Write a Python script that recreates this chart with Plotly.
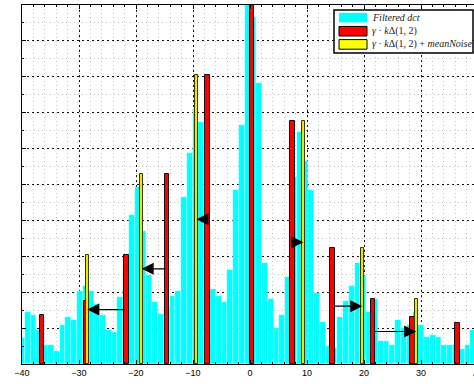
import numpy as np
import plotly.graph_objects as go

# ---------------- data ----------------
# filtered DCT histogram: bin heights, left to right (first bin centred at -40)
BIN_START = -40.0
BIN_WIDTH = 1.015
dct_counts = [
    0.73, 1.45, 1.37, 0.95, 0.52, 0.52, 0.37, 1.09, 1.32, 1.23,
    2.04, 2.18, 2.04, 1.68, 1.37, 0.95, 0.88, 1.88, 2.76, 4.15,
    4.93, 3.70, 2.48, 1.74, 1.39, 1.60, 1.90, 2.04, 4.64, 5.88,
    7.11, 6.74, 3.64, 2.10, 1.90, 1.74, 2.62, 4.86, 6.67, 10.4,
    9.66, 7.82, 2.82, 1.81, 1.00, 1.37, 2.41, 5.21, 6.46, 5.65,
    4.86, 1.97, 1.16, 0.51, 0.45, 1.32, 1.75, 2.16, 2.82, 2.46,
    1.46, 1.81, 0.65, 0.65, 0.52, 1.23, 1.01, 1.09, 1.46, 1.09,
    0.74, 0.81, 0.74, 0.52, 0.52, 0.52, 0.43, 0.52, 0.95, 0.95,
]
bin_centers = BIN_START + BIN_WIDTH * np.arange(len(dct_counts))

# gamma * k * Delta(1,2)  (red)
red_x = [-36.5, -28.8, -21.65, -14.6, -7.5, 0.35, 7.45, 14.5, 21.6, 28.55, 36.4]
red_y = [1.37, 1.76, 3.03, 5.30, 8.06, 10.5, 6.78, 3.22, 1.81, 1.32, 1.14]

# gamma * k * Delta(1,2) + meanNoise  (yellow)
yel_x = [-28.55, -19.0, -9.4, 9.35, 19.7, 29.15]
yel_y = [3.04, 5.30, 8.06, 6.78, 3.22, 1.81]

# arrows: red bar index -> yellow bar index
arrow_pairs = [(2, 0), (3, 1), (4, 2), (6, 3), (7, 4), (8, 5)]

x_ticks = [-40, -30, -20, -10, 0, 10, 20, 30]

legend_labels = [
    "<i>Filtered dct</i>",
    "<i>γ</i> · <i>k</i>Δ(1, 2)",
    "<i>γ</i> · <i>k</i>Δ(1, 2) + <i>meanNoise</i>",
]
legend_colors = ["#00FFFF", "#FF0000", "#FFFF00"]

# ---------------- figure ----------------
W, H = 474, 384
ML, MR, MT, MB = 22, 0, 5, 20
PW, PH = W - ML - MR, H - MT - MB


def px(xp):
    return (xp - ML) / PW


def py(yp):
    return (H - MB - yp) / PH


fig = go.Figure()
fig.add_trace(go.Bar(
    x=bin_centers, y=dct_counts, width=BIN_WIDTH,
    marker=dict(color="#00FFFF", line=dict(color="rgba(255,255,255,0.55)", width=0.5)),
    name="Filtered dct", showlegend=False,
))
fig.add_trace(go.Bar(
    x=red_x, y=red_y, width=0.8,
    marker=dict(color="#FF0000", line=dict(color="#111111", width=1)),
    showlegend=False,
))
fig.add_trace(go.Bar(
    x=yel_x, y=yel_y, width=0.5,
    marker=dict(color="#E8E800", line=dict(color="#3a3a00", width=1)),
    showlegend=False,
))

annotations = []
for ri, yi in arrow_pairs:
    annotations.append(dict(
        x=yel_x[yi], y=red_y[ri] / 2, ax=red_x[ri], ay=red_y[ri] / 2,
        xref="x", yref="y", axref="x", ayref="y",
        showarrow=True, arrowhead=2, arrowsize=2.0, arrowwidth=1.2,
        arrowcolor="black", text="", standoff=0, startstandoff=0,
    ))

# partially visible "40" tick label at the cut right edge
annotations.append(dict(
    x=px(477.7), y=py(373.5), xref="paper", yref="paper", text="40",
    showarrow=False, xanchor="center", yanchor="middle",
    font=dict(family="Liberation Sans", size=9, color="black"),
))

shapes = []
# legend box
shapes.append(dict(type="rect", xref="paper", yref="paper",
                   x0=px(334), x1=px(473), y0=py(53), y1=py(10),
                   line=dict(color="black", width=1.5), fillcolor="white", layer="above"))
rows = [17.6, 31.2, 44.4]
for i, (lab, col) in enumerate(zip(legend_labels, legend_colors)):
    yc = rows[i]
    shapes.append(dict(type="rect", xref="paper", yref="paper",
                       x0=px(339), x1=px(367), y0=py(yc + 4.8), y1=py(yc - 4.8),
                       line=dict(color="black" if i else col, width=1 if i else 0),
                       fillcolor=col, layer="above"))
    annotations.append(dict(
        x=px(370), y=py(yc), xref="paper", yref="paper", text=lab,
        showarrow=False, xanchor="left", yanchor="middle",
        font=dict(family="Liberation Serif", size=10, color="#222222"),
    ))

fig.update_layout(
    width=W, height=H,
    margin=dict(l=ML, r=MR, t=MT, b=MB, pad=0),
    paper_bgcolor="white", plot_bgcolor="white",
    barmode="overlay", bargap=0,
    showlegend=False,
    annotations=annotations, shapes=shapes,
    xaxis=dict(
        range=[-40, -40 + (W - ML - MR) / 5.7], tickvals=x_ticks,
        ticks="inside", ticklen=4, tickcolor="black",
        showline=True, linecolor="black", linewidth=1, mirror="ticks",
        showgrid=True, gridcolor="#111111", griddash="2px,3px", gridwidth=1,
        zeroline=False,
        tickfont=dict(family="Liberation Sans", size=9, color="black"),
        minor=dict(dtick=2, tick0=0, showgrid=True, gridcolor="#c4c4c4",
                   griddash="1px,3px", ticks="inside", ticklen=2, tickcolor="black"),
    ),
    yaxis=dict(
        range=[0, 10], dtick=1, showticklabels=False,
        ticks="inside", ticklen=4, tickcolor="black",
        showline=True, linecolor="black", linewidth=1, mirror=False,
        showgrid=True, gridcolor="#111111", griddash="2px,3px", gridwidth=1,
        zeroline=False,
        minor=dict(dtick=0.5, showgrid=True, gridcolor="#c4c4c4",
                   griddash="1px,3px", ticks="inside", ticklen=2, tickcolor="black"),
    ),
)

fig.write_html("out.html")
